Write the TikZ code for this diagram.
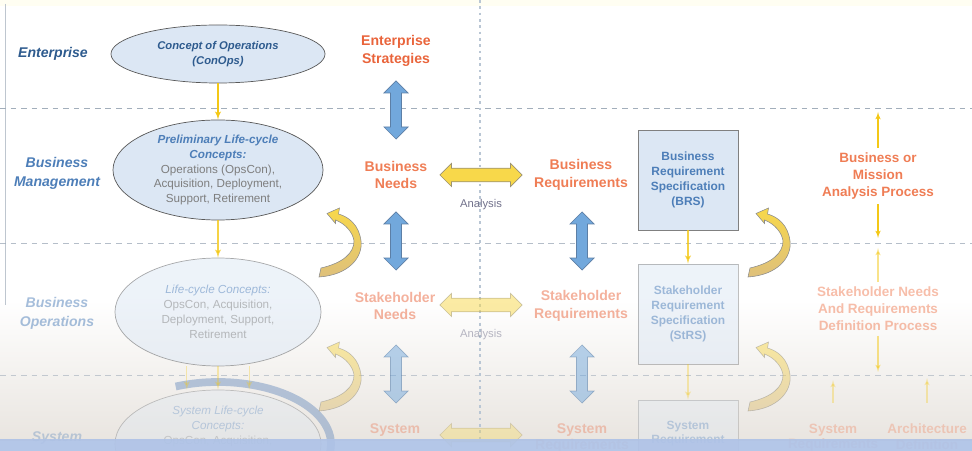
\documentclass[tikz,border=0pt]{standalone}
\usepackage{fontspec}
\setmainfont{Liberation Sans}
\usetikzlibrary{arrows,shapes.geometric,shapes.arrows}
\definecolor{orng}{HTML}{E9643B}
\definecolor{orng2}{HTML}{EF7D55}
\definecolor{lblue}{HTML}{DCE7F4}
\definecolor{dblue}{HTML}{2E5B8E}
\definecolor{mblue}{HTML}{4D7EB8}
\definecolor{arrblue}{HTML}{72A8DC}
\definecolor{arrline}{HTML}{5C7FA6}
\definecolor{arryel}{HTML}{F8D84A}
\definecolor{arrtan}{HTML}{DEC07C}
\definecolor{yelline}{HTML}{9C9370}
\definecolor{lineyel}{HTML}{F4C816}
\definecolor{lanegray}{HTML}{A2AEBB}
\definecolor{midline}{HTML}{B9C6D4}
\definecolor{txtgray}{HTML}{7E7E7E}
\definecolor{band}{HTML}{AEC2E6}
\definecolor{photo}{HTML}{E9E5E0}
\definecolor{ringc}{HTML}{7F9CC4}

\begin{document}
\begin{tikzpicture}[x=0.025cm,y=-0.025cm,
    lane/.style={draw=lanegray,dash pattern=on 4pt off 3.5pt,line width=0.6pt},
    lvl/.style={align=center,font=\bfseries\itshape\fontsize{10}{13.5}\selectfont},
    conc/.style={ellipse,draw=black!65,fill=lblue,line width=0.5pt,inner sep=0pt,align=center,
      text=txtgray,font=\fontsize{8.3}{10.6}\selectfont},
    need/.style={align=center,text=orng,font=\bfseries\fontsize{10}{12.6}\selectfont},
    spec/.style={rectangle,draw=black!50,fill=lblue,line width=0.6pt,minimum width=2.5cm,
      minimum height=2.5cm,align=center,text=mblue,font=\bfseries\fontsize{8.5}{10.6}\selectfont},
    proc/.style={align=center,text=orng2,font=\bfseries\fontsize{9.6}{12}\selectfont},
    updown/.style={double arrow,shape border rotate=90,draw=arrline,fill=arrblue,line width=0.5pt,
      inner sep=0.13cm,minimum width=0.6cm,minimum height=1.45cm,double arrow head extend=0.16cm},
    leftright/.style={double arrow,draw=yelline,fill=arryel,line width=0.5pt,inner sep=0.16cm,
      minimum width=0.58cm,minimum height=2.05cm,double arrow head extend=0.12cm},
    cn/.style={draw=lineyel,line width=1pt,-latex'},
    anl/.style={text=txtgray!90!blue,font=\fontsize{8}{10}\selectfont},
    row3/.style={opacity=0.5},
    row4/.style={opacity=0.32},
    uturn/.pic={
      \draw[draw=black!45,line width=0.4pt,top color=arryel,bottom color=arrtan]
        (-42,34) .. controls (-12,32) and (2,14) .. (0,-2)
        .. controls (-2,-18) and (-12,-26) .. (-22.5,-29)
        -- (-21.5,-35) -- (-34,-29.5) -- (-25.5,-19.5) -- (-25.5,-23)
        .. controls (-15,-19) and (-8,-10) .. (-7,-2)
        .. controls (-7,10) and (-18,20) .. (-40,25) -- cycle;
    }]
  \useasboundingbox (0,0) rectangle (972,451);
  \shade[top color=white,bottom color=photo] (0,300) rectangle (972,440);
  \fill[yellow!5] (0,0) rectangle (972,6);
  \draw[lanegray!70,line width=0.5pt] (5,4) -- (5,305);
  \draw[lane] (0,108) -- (972,108);
  \draw[lane,opacity=0.8] (0,243) -- (972,243);
  \draw[lane,opacity=0.6] (0,375) -- (972,375);
  \draw[midline,dash pattern=on 2pt off 2.5pt,line width=0.8pt] (480,0) -- (480,440);

  \node[lvl,text=dblue] (ent) at (53,54) {Enterprise};
  \node[lvl,text=mblue] (bman) at (57,173) {Business\\Management};
  \node[lvl,text=mblue,row3] (bops) at (57,313) {Business\\Operations};
  \node[lvl,text=mblue,row4] (sysl) at (57,438) {System};

  \node[conc,minimum width=5.35cm,minimum height=1.45cm,text=dblue,
    font=\bfseries\itshape\fontsize{8}{10.6}\selectfont] (conops) at (218,54)
    {Concept of Operations\\(ConOps)};
  \node[conc,minimum width=5.25cm,minimum height=2.5cm] (pre) at (218,170)
    {\textcolor{mblue}{\bfseries\itshape Preliminary Life-cycle}\\
     \textcolor{mblue}{\bfseries\itshape Concepts:}\\
     Operations (OpsCon),\\Acquisition, Deployment,\\Support, Retirement};
  \node[conc,row3,minimum width=5.15cm,minimum height=2.7cm] (lcc) at (218,312)
    {\textcolor{mblue}{\itshape Life-cycle Concepts:}\\OpsCon, Acquisition,\\
     Deployment, Support,\\Retirement};
  \draw[ringc,line width=5.5pt,opacity=0.55] ([shift={(-112:113 and 62)}]218,444)
    arc[start angle=-112,end angle=8,x radius=113,y radius=62];
  \node[conc,row4,minimum width=5.15cm,minimum height=2.7cm] (sys) at (218,444) {};
  \node[row4,anchor=north,align=center,text=txtgray,font=\fontsize{8.3}{10.6}\selectfont]
    (systxt) at (218,401)
    {\textcolor{mblue}{\itshape System Life-cycle}\\\textcolor{mblue}{\itshape Concepts:}\\
     OpsCon, Acquisition,};

  \draw[cn] (conops) -- (pre);
  \draw[cn,opacity=0.8] (pre) -- (lcc);
  \draw[cn,row4] ([xshift=-0.78cm]lcc.south) -- ([xshift=-0.78cm]sys.north);
  \draw[cn,row4] (lcc) -- (sys);
  \draw[cn,row4] ([xshift=0.78cm]lcc.south) -- ([xshift=0.78cm]sys.north);

  \node[need] (es) at (396,51) {Enterprise\\Strategies};
  \node[need,text=orng2] (bn) at (396,175) {Business\\Needs};
  \node[need,text=orng2] (br) at (581,175) {Business\\Requirements};
  \node[need,row3] (sn) at (395,306) {Stakeholder\\Needs};
  \node[need,row3] (sreq) at (581,306) {Stakeholder\\Requirements};
  \node[need,row4,anchor=north] (sysn) at (395,419) {System};
  \node[need,row4,anchor=north,font=\bfseries\fontsize{10}{11}\selectfont]
    (sysr) at (582,419) {System\\Requirements};

  \node[anl] (an1) at (481,205) {Analysis};
  \node[anl,row3] (an2) at (481,335) {Analysis};

  \node[updown] (v1) at (396,110) {};
  \node[updown] (v2) at (396,241) {};
  \node[updown] (v3) at (582,241) {};
  \node[updown,row3] (v4) at (396,374) {};
  \node[updown,row3] (v5) at (582,374) {};
  \node[leftright] (h1) at (481,175) {};
  \node[leftright,row3] (h2) at (481,305) {};
  \node[leftright,row4] (h3) at (481,435) {};

  \node[spec] (brs) at (688,180) {Business\\Requirement\\Specification\\(BRS)};
  \node[spec,row3] (strs) at (688,314) {Stakeholder\\Requirement\\Specification\\(StRS)};
  \node[spec,row4] (srs) at (688,450) {};
  \node[row4,anchor=north,align=center,text=mblue,font=\bfseries\fontsize{8.5}{10}\selectfont]
    (srstxt) at (688,416) {System\\Requirement};
  \draw[cn,opacity=0.8] (brs) -- (strs);
  \draw[cn,row4] (strs) -- (srs);

  \pic at (361,243) {uturn};
  \pic[row3] at (361,377) {uturn};
  \pic at (790,243) {uturn};
  \pic[row3] at (790,377) {uturn};

  \node[proc] (bma) at (878,176) {Business or\\Mission\\Analysis Process};
  \node[proc,row3] (snrd) at (878,309) {Stakeholder Needs\\And Requirements\\Definition Process};
  \node[proc,row4,anchor=north,font=\bfseries\fontsize{9.6}{11}\selectfont]
    (sreq2) at (833,419) {System\\Requirements};
  \node[proc,row4,anchor=north,font=\bfseries\fontsize{9.6}{11}\selectfont]
    (arch) at (927,419) {Architecture\\Definition};
  \coordinate (bmup) at (878,112);
  \coordinate (bmdn) at (878,238);
  \coordinate (snup) at (878,248);
  \coordinate (sndn) at (878,372);
  \coordinate (srup) at (833,380);
  \coordinate (arup) at (927,378);
  \draw[cn,line width=0.8pt] (bma) -- (bmup);
  \draw[cn,line width=0.8pt] (bma) -- (bmdn);
  \draw[cn,line width=0.8pt,row3] (snrd) -- (snup);
  \draw[cn,line width=0.8pt,row3] (snrd) -- (sndn);
  \draw[cn,line width=0.8pt,row4,shorten <=0.4cm] (sreq2) -- (srup);
  \draw[cn,line width=0.8pt,row4,shorten <=0.4cm] (arch) -- (arup);

  \fill[band,opacity=0.92] (0,439) rectangle (972,451);
\end{tikzpicture}
\end{document}
